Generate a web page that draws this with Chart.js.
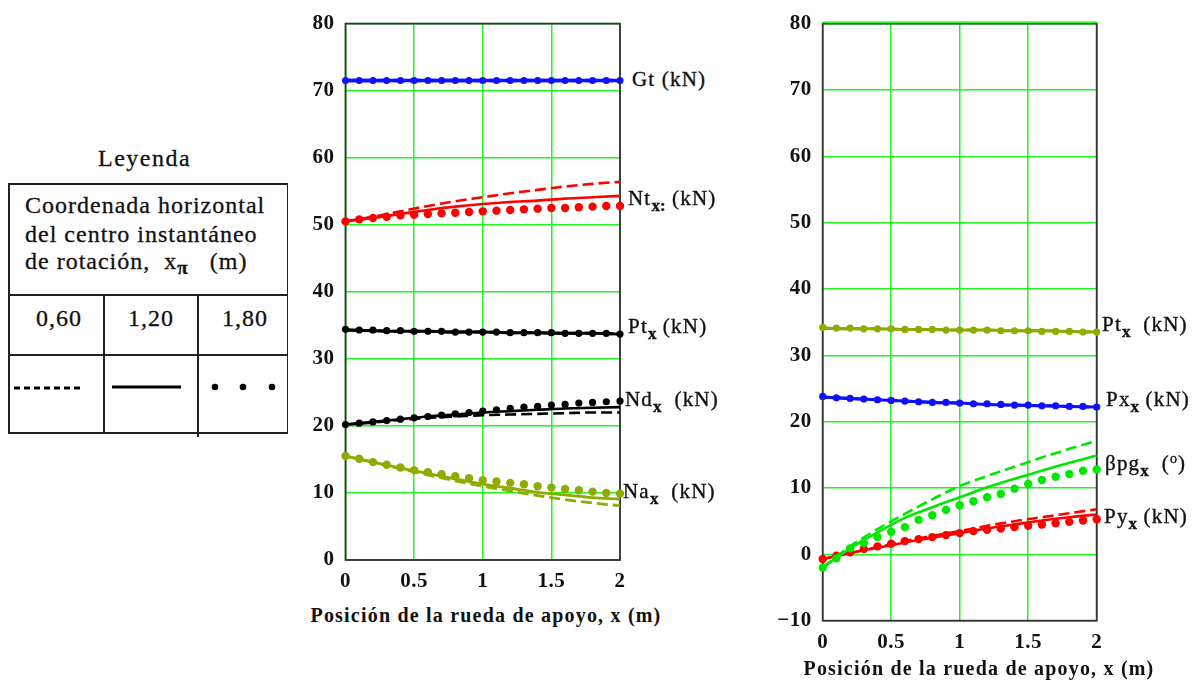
<!DOCTYPE html>
<html>
<head>
<meta charset="utf-8">
<script src="https://cdn.jsdelivr.net/npm/chart.js@4/dist/chart.umd.min.js"></script>
<style>
html,body{margin:0;padding:0;background:#fff;}
body{width:1201px;height:680px;position:relative;overflow:hidden;font-family:"Liberation Serif","Times New Roman",serif;color:#111;}
canvas{position:absolute;}
.lab{position:absolute;font-size:21px;letter-spacing:1.2px;white-space:nowrap;transform:translateY(-50%);line-height:1;-webkit-text-stroke:0.35px #111;}
.lab sub{font-weight:bold;font-size:17px;vertical-align:-6px;letter-spacing:0;}
.lab sup{font-size:14px;vertical-align:7px;}
.xt{position:absolute;font-weight:bold;font-size:20px;letter-spacing:1.2px;white-space:nowrap;transform:translate(-50%,-50%);line-height:1;}
.t{position:absolute;font-size:24px;letter-spacing:1px;white-space:nowrap;line-height:1;transform:translateY(-50%);-webkit-text-stroke:0.3px #111;}
.bl{position:absolute;background:#222;}
</style>
</head>
<body>
<!-- Legend table -->
<div class="t" style="left:98px;top:158px;letter-spacing:1.5px;">Leyenda</div>
<div class="bl" style="left:8px;top:183px;width:280px;height:1.8px;"></div>
<div class="bl" style="left:8px;top:294px;width:280px;height:1.8px;"></div>
<div class="bl" style="left:8px;top:354px;width:280px;height:1.8px;"></div>
<div class="bl" style="left:8px;top:432px;width:280px;height:1.8px;"></div>
<div class="bl" style="left:8px;top:183px;width:1.8px;height:250px;"></div>
<div class="bl" style="left:286.5px;top:183px;width:1.8px;height:250px;"></div>
<div class="bl" style="left:103px;top:294px;width:1.8px;height:139px;"></div>
<div class="bl" style="left:197px;top:294px;width:1.8px;height:143px;"></div>
<div class="t" style="left:25px;top:205px;">Coordenada horizontal</div>
<div class="t" style="left:25px;top:234px;">del centro instantáneo</div>
<div class="t" style="left:25px;top:263px;">de rotación,&nbsp; x<sub style="font-weight:bold;font-size:19px;vertical-align:-5px;">π</sub>&nbsp;&nbsp; (m)</div>
<div class="t" style="left:36px;top:318px;">0,60</div>
<div class="t" style="left:128px;top:318px;">1,20</div>
<div class="t" style="left:222px;top:318px;">1,80</div>
<svg style="position:absolute;left:0;top:370px;" width="290" height="40">
  <line x1="14" y1="18" x2="84" y2="18" stroke="#000" stroke-width="3" stroke-dasharray="6,4"/>
  <line x1="112" y1="17" x2="181" y2="17" stroke="#000" stroke-width="3"/>
  <circle cx="215" cy="17" r="3.3" fill="#000"/>
  <circle cx="243" cy="17" r="3.3" fill="#000"/>
  <circle cx="272" cy="17" r="3.3" fill="#000"/>
</svg>

<canvas id="c1" width="330" height="600" style="left:300px;top:0px;width:330px;height:600px;"></canvas>
<canvas id="c2" width="340" height="661" style="left:770px;top:0px;width:340px;height:661px;"></canvas>

<!-- series labels -->
<div class="lab" style="left:632px;top:79px;">Gt (kN)</div>
<div class="lab" style="left:628px;top:201px;">Nt<sub>x:</sub> (kN)</div>
<div class="lab" style="left:628px;top:329px;">Pt<sub>x</sub> (kN)</div>
<div class="lab" style="left:625px;top:402px;">Nd<sub>x</sub>&nbsp; (kN)</div>
<div class="lab" style="left:623px;top:494px;">Na<sub>x</sub>&nbsp; (kN)</div>
<div class="lab" style="left:1102px;top:327px;">Pt<sub>x</sub>&nbsp; (kN)</div>
<div class="lab" style="left:1106px;top:402px;">Px<sub>x</sub>&nbsp;(kN)</div>
<div class="lab" style="left:1105px;top:465px;">βpg<sub>x</sub>&nbsp; (<sup>o</sup>)</div>
<div class="lab" style="left:1104px;top:519px;">Py<sub>x</sub>&nbsp;(kN)</div>

<div class="xt" style="left:486px;top:615px;">Posición de la rueda de apoyo, x (m)</div>
<div class="xt" style="left:979px;top:668px;">Posición de la rueda de apoyo, x (m)</div>

<script>
// ---------------- DATA ----------------
const xLine = [0,0.2,0.4,0.6,0.8,1.0,1.2,1.4,1.6,1.8,2.0];
const xDot  = [0,0.1,0.2,0.3,0.4,0.5,0.6,0.7,0.8,0.9,1.0,1.1,1.2,1.3,1.4,1.5,1.6,1.7,1.8,1.9,2.0];
const yTicksLeft  = [0,10,20,30,40,50,60,70,80];
const yTicksRight = [-10,0,10,20,30,40,50,60,70,80];
const xTicks = [0,0.5,1,1.5,2];

// Left chart (x_pi = 0.60 dashed, 1.20 solid, 1.80 dotted)
const gtDash  = [71.5,71.5,71.5,71.5,71.5,71.5,71.5,71.5,71.5,71.5,71.5];
const gtSolid = [71.5,71.5,71.5,71.5,71.5,71.5,71.5,71.5,71.5,71.5,71.5];
const gtDot   = [71.5,71.5,71.5,71.5,71.5,71.5,71.5,71.5,71.5,71.5,71.5,71.5,71.5,71.5,71.5,71.5,71.5,71.5,71.5,71.5,71.5];

const ntDash  = [50.5,51.2,52.0,52.8,53.5,54.1,54.7,55.2,55.7,56.1,56.4];
const ntSolid = [50.5,51.0,51.6,52.2,52.7,53.1,53.4,53.6,53.9,54.1,54.3];
const ntDot   = [50.5,50.8,51.0,51.2,51.4,51.5,51.6,51.7,51.8,51.9,52.0,52.1,52.2,52.3,52.4,52.5,52.5,52.6,52.7,52.8,52.8];

const ptDash  = [34.3,34.2,34.1,34.1,34.0,34.0,33.9,33.9,33.8,33.8,33.7];
const ptSolid = [34.3,34.2,34.1,34.1,34.0,34.0,33.9,33.9,33.8,33.8,33.7];
const ptDot   = [34.4,34.3,34.3,34.2,34.2,34.1,34.1,34.1,34.0,34.0,34.0,34.0,33.9,33.9,33.9,33.9,33.8,33.8,33.8,33.8,33.7];

const ndDash  = [20.2,20.5,20.9,21.2,21.4,21.6,21.7,21.8,21.9,22.0,22.0];
const ndSolid = [20.2,20.6,21.0,21.4,21.7,22.0,22.2,22.4,22.6,22.7,22.8];
const ndDot   = [20.2,20.4,20.6,20.8,21.0,21.2,21.4,21.6,21.8,22.0,22.2,22.4,22.6,22.8,22.9,23.1,23.2,23.4,23.5,23.6,23.7];

const naDash  = [15.5,14.6,13.6,12.7,11.8,11.0,10.3,9.6,9.0,8.5,8.1];
const naSolid = [15.5,14.6,13.7,12.9,12.1,11.3,10.7,10.1,9.7,9.3,9.1];
const naDot   = [15.5,15.1,14.6,14.2,13.8,13.4,13.1,12.8,12.5,12.2,11.9,11.7,11.5,11.3,11.0,10.8,10.6,10.4,10.2,10.0,9.9];

// Right chart
const pt2Dash  = [34.1,34.0,34.0,33.9,33.9,33.8,33.8,33.7,33.7,33.6,33.5];
const pt2Solid = [34.1,34.0,34.0,33.9,33.9,33.8,33.8,33.7,33.7,33.6,33.5];
const pt2Dot   = [34.2,34.1,34.1,34.0,34.0,34.0,33.9,33.9,33.9,33.8,33.8,33.8,33.8,33.7,33.7,33.7,33.6,33.6,33.6,33.5,33.5];

const pxDash  = [23.7,23.5,23.3,23.1,22.9,22.8,22.6,22.5,22.4,22.3,22.2];
const pxSolid = [23.7,23.5,23.3,23.1,22.9,22.8,22.6,22.5,22.4,22.3,22.2];
const pxDot   = [23.8,23.6,23.5,23.4,23.3,23.2,23.1,23.0,22.9,22.9,22.8,22.7,22.7,22.6,22.5,22.5,22.4,22.4,22.3,22.3,22.2];

const bpgDash  = [-2.0,1.2,3.8,6.1,8.3,10.3,11.8,13.2,14.6,15.9,17.1];
const bpgSolid = [-2.0,0.9,3.3,5.5,7.1,8.6,10.1,11.4,12.6,13.8,14.9];
const bpgDot   = [-2.0,-0.6,0.9,1.7,2.6,3.4,4.1,5.2,5.9,6.7,7.4,8.0,8.6,9.1,9.9,10.6,11.2,11.7,12.1,12.6,12.8];

const pyDash  = [-0.7,0.2,1.1,2.0,2.8,3.5,4.3,5.0,5.6,6.2,6.8];
const pySolid = [-0.7,0.2,1.0,1.8,2.5,3.2,3.9,4.5,5.1,5.6,6.0];
const pyDot   = [-0.7,-0.2,0.3,0.8,1.2,1.6,2.0,2.3,2.6,2.9,3.2,3.5,3.7,3.9,4.1,4.3,4.5,4.7,4.9,5.1,5.3];

// ---------------- STYLE / BUILD ----------------
const BLUE = '#1010ff', RED = '#ff0000', BLACK = '#000000', OLIVE = '#8eac00', GREEN = '#00e800', GRID = '#1ff51f';

function pts(xs, ys){ return xs.map((x,i)=>({x:x, y:ys[i]})); }
function dash(ys, c, w){ return {data:pts(xLine,ys), borderColor:c, borderWidth:w||2.6, borderDash:[11,5], pointRadius:0, fill:false, cubicInterpolationMode:'monotone'}; }
function solid(ys, c, w){ return {data:pts(xLine,ys), borderColor:c, borderWidth:w||2.6, pointRadius:0, fill:false, cubicInterpolationMode:'monotone'}; }
function dots(ys, c, r){ return {data:pts(xDot,ys), borderColor:c, backgroundColor:c, showLine:false, pointRadius:r||3.5, pointBorderWidth:0, pointHoverRadius:0, clip:false}; }

const framePlugin = {
  id:'frame',
  beforeDatasetsDraw(chart, args, opts){
    const a = chart.chartArea, ctx = chart.ctx;
    ctx.save();
    ctx.strokeStyle = '#333'; ctx.lineWidth = 1.8;
    ctx.strokeRect(a.left, a.top, a.right-a.left, a.bottom-a.top);
    if (opts.greenTop){
      ctx.strokeStyle = GRID; ctx.lineWidth = 1.6;
      ctx.beginPath(); ctx.moveTo(a.left, a.top-1.2); ctx.lineTo(a.right, a.top-1.2); ctx.stroke();
    }
    ctx.restore();
  }
};
const spacingPlugin = { id:'spacing', beforeDraw(chart){ chart.ctx.letterSpacing = '0.5px'; } };

function makeChart(id, datasets, yMin, yMax, yTicksArr, yW, xH, padRight, greenTop){
  return new Chart(document.getElementById(id), {
    type:'line',
    data:{datasets:datasets},
    options:{
      responsive:false, animation:false,
      layout:{padding:{top:20, right:padRight, left:0, bottom:0}},
      plugins:{legend:{display:false}, tooltip:{enabled:false}, frame:{greenTop:greenTop}},
      scales:{
        x:{type:'linear', min:0, max:2,
           afterBuildTicks(s){ s.ticks = xTicks.map(v=>({value:v})); },
           afterFit(s){ s.height = xH; s.paddingLeft = 0; s.paddingRight = 0; },
           grid:{color:GRID, lineWidth:1.5, drawTicks:false},
           border:{display:false},
           ticks:{color:'#111', padding:9, font:{family:'Liberation Serif', size:21, weight:'bold'}, maxRotation:0,
                  callback:v=>String(v)}},
        y:{type:'linear', min:yMin, max:yMax,
           afterBuildTicks(s){ s.ticks = yTicksArr.map(v=>({value:v})); },
           afterFit(s){ s.width = yW; },
           grid:{color:GRID, lineWidth:1.5, drawTicks:false},
           border:{display:false},
           ticks:{color:'#111', padding:11, font:{family:'Liberation Serif', size:21, weight:'bold'},
                  callback:v=> v<0 ? '\u2212'+Math.abs(v) : String(v)}}
      }
    },
    plugins:[framePlugin, spacingPlugin]
  });
}

makeChart('c1', [
  dash(ntDash, RED), solid(ntSolid, RED), dots(ntDot, RED, 4.2),
  dash(gtDash, BLUE, 3.5), solid(gtSolid, BLUE, 3.5), dots(gtDot, BLUE, 3.5),
  dash(ptDash, BLACK, 3), solid(ptSolid, BLACK, 3), dots(ptDot, BLACK, 3.6),
  dash(ndDash, BLACK), solid(ndSolid, BLACK), dots(ndDot, BLACK, 3.6),
  dash(naDash, OLIVE, 2.8), solid(naSolid, OLIVE, 2.8), dots(naDot, OLIVE, 4.2)
], 0, 80, yTicksLeft, 45.5, 40, 10, false);

makeChart('c2', [
  dash(pt2Dash, OLIVE, 3), solid(pt2Solid, OLIVE, 3), dots(pt2Dot, OLIVE, 3.6),
  dash(pxDash, BLUE, 3), solid(pxSolid, BLUE, 3), dots(pxDot, BLUE, 3.6),
  dash(bpgDash, GREEN), solid(bpgSolid, GREEN), dots(bpgDot, GREEN, 4.2),
  dash(pyDash, RED), solid(pySolid, RED), dots(pyDot, RED, 4.2)
], -10, 80, yTicksRight, 52.7, 40.3, 13.3, true);
</script>
</body>
</html>
